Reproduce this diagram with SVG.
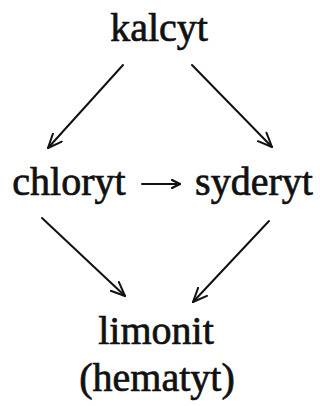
<svg xmlns="http://www.w3.org/2000/svg" width="320" height="406" viewBox="0 0 320 406">
<style>
text{font-family:"Liberation Serif","Times New Roman",serif;font-size:40px;fill:#111;stroke:#111;stroke-width:0.7;text-anchor:middle}
.c{stroke:#111;stroke-width:2;fill:none;stroke-linecap:round}
</style>
<defs>
<marker id="ah" viewBox="0 0 16 14" refX="15" refY="7" markerWidth="16" markerHeight="14" markerUnits="userSpaceOnUse" orient="auto">
<path d="M1,1 L15,7 L1,13" fill="none" stroke="#111" stroke-width="2" stroke-linecap="round" stroke-linejoin="round"/>
</marker>
<marker id="ah2" viewBox="0 0 10 10" refX="9" refY="5" markerWidth="10" markerHeight="10" markerUnits="userSpaceOnUse" orient="auto">
<path d="M1,1 L9,5 L1,9" fill="none" stroke="#111" stroke-width="2.2" stroke-linecap="round" stroke-linejoin="round"/>
</marker>
</defs>
<rect width="320" height="406" fill="#fff"/>
<g id="kalcyt"><text x="159" y="41">kalcyt</text></g>
<g id="chloryt"><text x="69" y="195">chloryt</text></g>
<g id="syderyt"><text x="254" y="195">syderyt</text></g>
<g id="limonit"><text x="156" y="344">limonit</text><text x="157" y="391">(hematyt)</text></g>
<g id="connectors">
<line class="c" x1="123" y1="65" x2="48" y2="148" marker-end="url(#ah)"/>
<line class="c" x1="192" y1="65" x2="272" y2="147" marker-end="url(#ah)"/>
<line class="c" x1="42" y1="218" x2="125" y2="296" marker-end="url(#ah)"/>
<line class="c" x1="269" y1="221" x2="193" y2="302" marker-end="url(#ah)"/>
<line class="c" x1="142" y1="184" x2="180" y2="184" marker-end="url(#ah2)"/>
</g>
</svg>
